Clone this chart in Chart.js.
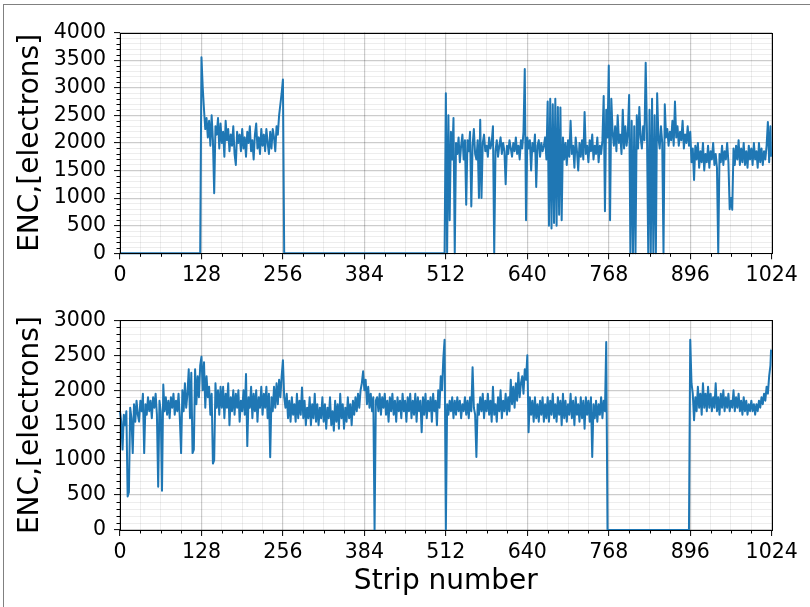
<!DOCTYPE html>
<html>
<head>
<meta charset="utf-8">
<script src="https://cdn.jsdelivr.net/npm/chart.js@4.4.1/dist/chart.umd.min.js"></script>
<style>
  html, body { margin: 0; padding: 0; background: #fff; }
  #figura { position: relative; width: 810px; height: 607px; overflow: hidden; }
  #marco { position: absolute; left: 3px; top: 4px; right: -10px; bottom: -10px;
           border-top: 1px solid #808080; border-left: 1px solid #808080; }
  canvas { position: absolute; left: 0; }
  #graficaArriba { top: 0; }
  #graficaAbajo { top: 300px; }
</style>
</head>
<body>
<div id="figura">
  <div id="marco"></div>
  <canvas id="graficaArriba" width="810" height="300"></canvas>
  <canvas id="graficaAbajo" width="810" height="307"></canvas>
</div>
<script>
// ONE VALUE EVERY 2 STRIPS (0, 2, ... 1022) PLUS THE LAST STRIP 1023
const PASO = 2;
const ULTIMO_STRIP = 1023;

const ticksX = [0, 128, 256, 384, 512, 640, 768, 896, 1024];
const ticksYArriba = [0, 500, 1000, 1500, 2000, 2500, 3000, 3500, 4000];
const ticksYAbajo = [0, 500, 1000, 1500, 2000, 2500, 3000];

// ENC OF THE UPPER MODULE [electrons], 16 VALUES = 32 STRIPS PER LINE
const encArriba = [
  0, 0, 0, 0, 0, 0, 0, 0, 0, 0, 0, 0, 0, 0, 0, 0,
  0, 0, 0, 0, 0, 0, 0, 0, 0, 0, 0, 0, 0, 0, 0, 0,
  0, 0, 0, 0, 0, 0, 0, 0, 0, 0, 0, 0, 0, 0, 0, 0,
  0, 0, 0, 0, 0, 0, 0, 0, 0, 0, 0, 0, 0, 0, 0, 0,
  3550, 3000, 2600, 2250, 2450, 2100, 2400, 1950, 2500, 2050, 1090, 2300, 2150, 2450, 1900, 2350,
  2000, 2200, 1750, 2400, 2050, 2250, 1850, 2150, 1950, 2300, 1800, 1600, 2200, 2000, 2150, 1850,
  2250, 1900, 2100, 1750, 2200, 2000, 2300, 1850, 2050, 1700, 2150, 2350, 1900, 2100, 1800, 2250,
  1950, 2150, 1850, 2250, 2000, 1800, 2200, 1900, 2250, 2100, 1850, 2300, 2150, 2500, 2700, 2900,
  3150, 0, 0, 0, 0, 0, 0, 0, 0, 0, 0, 0, 0, 0, 0, 0,
  0, 0, 0, 0, 0, 0, 0, 0, 0, 0, 0, 0, 0, 0, 0, 0,
  0, 0, 0, 0, 0, 0, 0, 0, 0, 0, 0, 0, 0, 0, 0, 0,
  0, 0, 0, 0, 0, 0, 0, 0, 0, 0, 0, 0, 0, 0, 0, 0,
  0, 0, 0, 0, 0, 0, 0, 0, 0, 0, 0, 0, 0, 0, 0, 0,
  0, 0, 0, 0, 0, 0, 0, 0, 0, 0, 0, 0, 0, 0, 0, 0,
  0, 0, 0, 0, 0, 0, 0, 0, 0, 0, 0, 0, 0, 0, 0, 0,
  0, 0, 0, 0, 0, 0, 0, 0, 0, 0, 0, 0, 0, 0, 0, 0,
  2900, 0, 2500, 600, 2200, 1700, 2450, 0, 2000, 1800, 2100, 1650, 1950, 2150, 1700, 2050,
  880, 2050, 1850, 2200, 850, 1950, 2250, 1800, 1700, 2050, 1000, 2420, 1000, 2000, 2150, 1850,
  1950, 1750, 2100, 1900, 2000, 2300, 0, 1850, 2050, 1750, 1950, 2100, 1800, 2000, 1850, 1250,
  1950, 1800, 2050, 1900, 1750, 2000, 1850, 2100, 1800, 1950, 1700, 2050, 1900, 2200, 3340, 600,
  2100, 1900, 2050, 1500, 2000, 1850, 2150, 1200, 1950, 2050, 1750, 2000, 1850, 1950, 2100, 1700,
  2750, 500, 2800, 450, 2700, 550, 2800, 500, 2650, 700, 2640, 600, 2100, 1700, 2000, 1600,
  2050, 1750, 2400, 1800, 1950, 1550, 2100, 1850, 1500, 2000, 1750, 2050, 1700, 2560, 1800, 1950,
  1650, 2050, 1850, 2150, 1700, 1950, 1800, 2100, 1650, 1950, 1800, 2050, 2850, 760, 2600, 2100,
  3400, 600, 2800, 2200, 1950, 2300, 1850, 2500, 2000, 2150, 1800, 2600, 1900, 2300, 1950, 2200,
  2870, 0, 2400, 0, 2300, 0, 2500, 1900, 2650, 2100, 1900, 2300, 2050, 3450, 2200, 0,
  2600, 0, 2800, 0, 2500, 0, 2900, 2100, 1900, 2300, 2000, 0, 2700, 2100, 2250, 1950,
  2200, 2050, 2400, 1950, 2750, 2100, 2300, 1950, 2200, 2050, 2400, 1900, 2150, 2000, 2300, 1950,
  2200, 1650, 1900, 1330, 1950, 1700, 2000, 1550, 1850, 1650, 2000, 1500, 1800, 1650, 1950, 1550,
  1850, 1700, 2000, 1600, 1800, 1550, 0, 1800, 1650, 1950, 1600, 1850, 1700, 2000, 1650, 800,
  1000, 790, 1900, 1600, 1950, 1700, 2050, 1600, 1900, 1650, 2000, 1600, 1850, 1550, 1950, 1700,
  1900, 1600, 2000, 1700, 1850, 1550, 2000, 1650, 1900, 1600, 1850, 1700, 1950, 2380, 1650, 2300,
  1750
];

// ENC OF THE LOWER MODULE [electrons], 16 VALUES = 32 STRIPS PER LINE
const encAbajo = [
  1700, 1550, 1150, 1650, 1500, 1700, 480, 540, 1750, 1600, 1100, 1800, 1550, 1850, 1650, 1550,
  1850, 1700, 1950, 1100, 1800, 1650, 1900, 1700, 1850, 1600, 1900, 1750, 1950, 1650, 620, 1850,
  1700, 560, 2080, 1700, 1900, 1650, 1850, 1600, 1900, 1750, 1950, 1650, 1850, 1700, 1950, 1600,
  1100, 2000, 1700, 2100, 1750, 1950, 2300, 1600, 2250, 1100, 1150, 2300, 1800, 2200, 1900, 2350,
  2480, 2000, 2400, 1750, 2200, 1900, 2050, 1650, 1950, 950, 1000, 2100, 1750, 2000, 1650, 2050,
  1750, 2050, 1600, 1950, 1750, 2100, 1500, 1900, 1700, 2000, 1650, 1950, 1750, 2000, 1550, 1850,
  1700, 2000, 1650, 2230, 1200, 1900, 1750, 2050, 1600, 1950, 1700, 2000, 1550, 1900, 1750, 2050,
  1650, 1950, 1750, 2050, 1600, 1950, 1040, 1900, 1700, 2050, 1750, 2100, 1800, 2150, 1900, 2200,
  2430, 1900, 1750, 1950, 1600, 1850, 1550, 1900, 1650, 1800, 1550, 1950, 1600, 1850, 1650, 2040,
  1600, 1850, 1500, 1750, 1600, 1900, 1500, 1800, 1600, 1950, 1550, 1800, 1500, 1750, 1600, 1900,
  1550, 1800, 1450, 1750, 1600, 1900, 1500, 1700, 1420, 1850, 1550, 1800, 1450, 1950, 1600, 1800,
  1450, 1750, 1550, 1900, 1600, 1800, 1500, 1850, 1650, 1900, 1700, 1950, 1750, 2000, 2100, 2270,
  2000, 2150, 1800, 2050, 1750, 1950, 1700, 1900, 0, 1850, 1900, 1700, 1950, 1650, 1900, 1750,
  1950, 1650, 1850, 1550, 1900, 1700, 1950, 1650, 1850, 1550, 1900, 1700, 1850, 1600, 1950, 1700,
  1850, 1550, 1900, 1700, 1950, 1600, 1850, 1650, 1950, 1550, 1900, 1700, 1850, 1400, 1900, 1650,
  1950, 1600, 1850, 1700, 1900, 1550, 1950, 1700, 1850, 1500, 2000, 1750, 2200, 2000, 2450, 2720,
  0, 1800, 1650, 1850, 1700, 1900, 1600, 1850, 1650, 1900, 1700, 1850, 1600, 1800, 1700, 1900,
  1650, 1850, 1600, 1900, 1700, 2330, 1750, 1650, 1045, 1800, 1650, 1900, 1700, 1950, 1600, 1850,
  1700, 1950, 1650, 1850, 1550, 2050, 1650, 1800, 1550, 1900, 1700, 2000, 1600, 1850, 1700, 1950,
  1650, 1900, 1700, 2150, 1800, 2050, 1750, 2100, 1850, 2250, 1900, 2100, 2200, 1950, 2300, 2150,
  2500, 1400, 1900, 1650, 1850, 1550, 1900, 1600, 1800, 1550, 1850, 1650, 1900, 1550, 1800, 1600,
  1900, 1550, 1850, 1650, 1950, 1600, 1800, 1550, 1900, 1650, 1850, 1500, 1950, 1600, 1850, 1550,
  1800, 1650, 1950, 1600, 1850, 1500, 1900, 1650, 1800, 1550, 1900, 1600, 1850, 1450, 1900, 1650,
  1850, 1550, 1900, 1045, 1800, 1600, 1850, 1550, 1800, 1650, 1900, 1600, 1850, 1700, 2690, 0,
  0, 0, 0, 0, 0, 0, 0, 0, 0, 0, 0, 0, 0, 0, 0, 0,
  0, 0, 0, 0, 0, 0, 0, 0, 0, 0, 0, 0, 0, 0, 0, 0,
  0, 0, 0, 0, 0, 0, 0, 0, 0, 0, 0, 0, 0, 0, 0, 0,
  0, 0, 0, 0, 0, 0, 0, 0, 0, 0, 0, 0, 0, 0, 0, 0,
  2720, 2100, 1950, 1570, 1900, 1700, 2050, 1750, 1950, 1650, 2100, 1750, 1950, 1700, 2050, 1750,
  1950, 1700, 1900, 1750, 2100, 1700, 1900, 1650, 1950, 1750, 2000, 1700, 1900, 1750, 1950, 1700,
  1850, 1750, 2000, 1700, 1900, 1750, 1950, 1700, 1850, 1650, 1900, 1700, 1850, 1650, 1800, 1700,
  1850, 1700, 1800, 1650, 1800, 1700, 1850, 1750, 1900, 1800, 1950, 1850, 2050, 1950, 2200, 2350,
  2580
];

const AZUL = '#1f77b4';
const GRID_MAYOR = 'rgba(0,0,0,0.2)';
const GRID_MENOR = 'rgba(0,0,0,0.07)';

Chart.defaults.font.family = "'DejaVu Sans', sans-serif";
Chart.defaults.color = '#000';

const puntos = (valores) =>
  valores.map((v, i) => ({ x: Math.min(i * PASO, ULTIMO_STRIP), y: v }));

// MINOR TICKS AND THE FULL BLACK FRAME (matplotlib style)
const pluginMarco = (mayoresY) => ({
  id: 'marcoEjes',
  afterDraw: (chart) => {
    const { ctx, chartArea, scales } = chart;
    const { left, right, top, bottom } = chartArea;
    ctx.save();
    ctx.strokeStyle = '#000';
    ctx.lineWidth = 1;
    ctx.beginPath();
    scales.x.ticks.forEach(({ value }) => {
      if (ticksX.includes(value)) return;
      const px = Math.round(scales.x.getPixelForValue(value)) + 0.5;
      ctx.moveTo(px, bottom);
      ctx.lineTo(px, bottom + 3.5);
    });
    scales.y.ticks.forEach(({ value }) => {
      if (mayoresY.includes(value)) return;
      const py = Math.round(scales.y.getPixelForValue(value)) + 0.5;
      ctx.moveTo(left - 3.5, py);
      ctx.lineTo(left, py);
    });
    ctx.stroke();
    const l = Math.round(left), t = Math.round(top);
    ctx.strokeRect(l + 0.5, t + 0.5, Math.round(right) - l, Math.round(bottom) - t);
    ctx.restore();
  }
});

const crearGrafica = (canvas, valores, mayoresY, conTituloX, padTop, altoX) => {
  const maxY = mayoresY[mayoresY.length - 1];
  return new Chart(canvas, {
    type: 'line',
    data: {
      datasets: [{
        data: puntos(valores),
        borderColor: AZUL,
        borderWidth: 2,
        borderJoinStyle: 'round',
        pointRadius: 0,
        tension: 0,
        fill: false,
        clip: false
      }]
    },
    options: {
      responsive: false,
      animation: false,
      events: [],
      layout: { padding: { top: padTop, right: 38.3, left: 0, bottom: 0 } },
      plugins: { legend: { display: false }, tooltip: { enabled: false } },
      scales: {
        x: {
          type: 'linear',
          min: 0,
          max: 1024,
          ticks: {
            stepSize: 32,
            maxTicksLimit: 200,
            autoSkip: false,
            minRotation: 0,
            maxRotation: 0,
            padding: 4,
            color: '#000',
            font: { size: 20.5 },
            callback: (v) => (ticksX.includes(v) ? String(v) : '')
          },
          grid: {
            color: (c) => (ticksX.includes(c.tick.value) ? GRID_MAYOR : GRID_MENOR),
            lineWidth: (c) => (ticksX.includes(c.tick.value) ? 1.2 : 1),
            tickLength: 6,
            tickColor: (c) => (ticksX.includes(c.tick.value) ? '#000' : 'rgba(0,0,0,0)'),
            tickWidth: 1
          },
          border: { display: false },
          title: {
            display: conTituloX,
            text: 'Strip number',
            color: '#000',
            font: { size: 28 },
            padding: { top: 0, bottom: 8 }
          },
          afterFit: (eje) => { eje.height = altoX; }
        },
        y: {
          type: 'linear',
          min: 0,
          max: maxY,
          ticks: {
            stepSize: 100,
            maxTicksLimit: 200,
            autoSkip: false,
            padding: 8,
            color: '#000',
            font: { size: 20.5 },
            callback: (v) => (mayoresY.includes(v) ? String(v) : '')
          },
          grid: {
            color: (c) => (mayoresY.includes(c.tick.value) ? GRID_MAYOR : GRID_MENOR),
            lineWidth: (c) => (mayoresY.includes(c.tick.value) ? 1.2 : 1),
            tickLength: 6,
            tickColor: (c) => (mayoresY.includes(c.tick.value) ? '#000' : 'rgba(0,0,0,0)'),
            tickWidth: 1
          },
          border: { display: false },
          title: {
            display: true,
            text: 'ENC,[electrons]',
            color: '#000',
            font: { size: 28 },
            padding: { top: 14, bottom: 0 }
          },
          afterFit: (eje) => { eje.width = 120; }
        }
      }
    },
    plugins: [pluginMarco(mayoresY)]
  });
};

crearGrafica(document.getElementById('graficaArriba'), encArriba, ticksYArriba, false, 32.5, 46.7);
crearGrafica(document.getElementById('graficaAbajo'), encAbajo, ticksYAbajo, true, 9.7, 77);
</script>
</body>
</html>
